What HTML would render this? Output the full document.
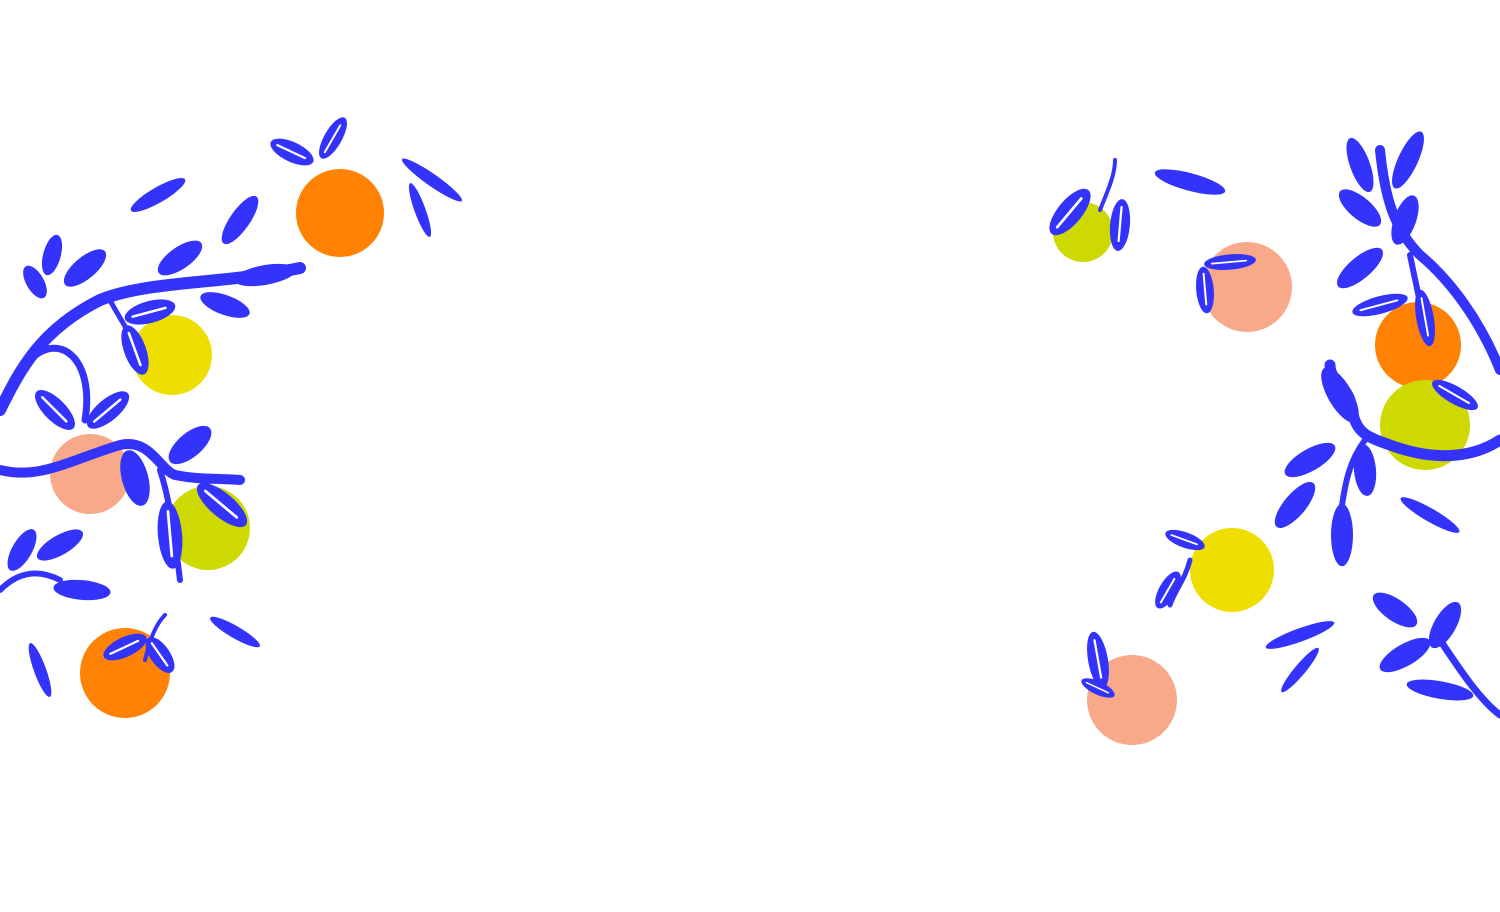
<!DOCTYPE html>
<html><head><meta charset="utf-8"><style>
html,body{margin:0;padding:0;background:#fff;width:1500px;height:912px;overflow:hidden}
svg{display:block}
</style></head><body>
<svg width="1500" height="912" viewBox="0 0 1500 912" xmlns="http://www.w3.org/2000/svg">
<defs>
<g id="lf"><ellipse cx="0" cy="0" rx="26" ry="11" fill="#3333fb"/></g>
<g id="lv"><ellipse cx="0" cy="0" rx="26" ry="11" fill="#3333fb"/><line x1="-18" y1="0" x2="16" y2="0" stroke="#fff" stroke-width="2.5" stroke-linecap="round"/></g>
</defs>
<circle cx="340" cy="213" r="44" fill="#ff8205"/>
<circle cx="172" cy="355" r="40" fill="#eedf00"/>
<circle cx="90" cy="474" r="40" fill="#f7a98a"/>
<circle cx="208" cy="528" r="42" fill="#cdd900"/>
<circle cx="125" cy="673" r="45" fill="#ff8205"/>
<circle cx="1083" cy="232" r="30" fill="#cdd900"/>
<circle cx="1247" cy="287" r="45" fill="#f7a98a"/>
<circle cx="1418" cy="345" r="43" fill="#ff8205"/>
<circle cx="1425" cy="425" r="45" fill="#cdd900"/>
<circle cx="1232" cy="570" r="42" fill="#eedf00"/>
<circle cx="1132" cy="700" r="45" fill="#f7a98a"/>

<g fill="none" stroke="#3333fb" stroke-linecap="round">
<path d="M0,410 C20,370 40,330 100,300 C150,280 220,285 300,268" stroke-width="12"/>
<path d="M0,470 C40,480 70,460 120,445 C150,438 160,470 175,475 C200,480 215,478 240,480" stroke-width="10"/>
<path d="M30,360 C60,330 95,360 85,420" stroke-width="7"/>
<path d="M110,300 C120,320 130,330 140,360" stroke-width="5"/>
<path d="M160,470 C170,500 175,540 180,580" stroke-width="6"/>
<path d="M0,590 C20,570 40,570 60,580" stroke-width="6"/>
<path d="M145,660 C150,640 155,625 165,615" stroke-width="4"/>
<path d="M1500,440 C1470,460 1430,460 1390,445 C1360,435 1355,430 1350,400 C1345,385 1330,380 1330,365" stroke-width="11"/>
<path d="M1500,370 C1480,320 1450,280 1420,255 C1395,230 1385,200 1380,150" stroke-width="10"/>
<path d="M1365,440 C1350,460 1345,480 1340,520" stroke-width="6"/>
<path d="M1410,255 C1415,280 1420,300 1425,330" stroke-width="6"/>
<path d="M1100,210 C1108,190 1115,175 1115,160" stroke-width="4"/>
<path d="M1440,640 C1460,670 1480,700 1500,715" stroke-width="7"/>
<path d="M1190,560 C1185,580 1175,590 1170,605" stroke-width="5"/>
</g>

<use href="#lf" transform="translate(158,195) rotate(-30) scale(1.2,0.7)"/>
<use href="#lf" transform="translate(240,220) rotate(-55) scale(1.1,0.9)"/>
<use href="#lf" transform="translate(180,258) rotate(-35)"/>
<use href="#lf" transform="translate(265,275) rotate(-10) scale(1.2,0.9)"/>
<use href="#lf" transform="translate(225,305) rotate(20) scale(1,0.9)"/>
<use href="#lv" transform="translate(150,312) rotate(-15) scale(1,1)"/>
<use href="#lv" transform="translate(135,350) rotate(70)"/>
<use href="#lf" transform="translate(85,268) rotate(-40)"/>
<use href="#lf" transform="translate(52,255) rotate(-75) scale(0.8,0.8)"/>
<use href="#lf" transform="translate(35,282) rotate(60) scale(0.7,0.8)"/>
<use href="#lv" transform="translate(55,410) rotate(45)"/>
<use href="#lv" transform="translate(108,410) rotate(-40)"/>
<use href="#lf" transform="translate(190,445) rotate(-40) scale(1,1.1)"/>
<use href="#lf" transform="translate(135,478) rotate(75) scale(1.1,1.2)"/>
<use href="#lv" transform="translate(222,505) rotate(40) scale(1.2,1.1)"/>
<use href="#lv" transform="translate(170,535) rotate(85) scale(1.3,1.1)"/>
<use href="#lf" transform="translate(22,550) rotate(-60) scale(0.9,0.9)"/>
<use href="#lf" transform="translate(60,545) rotate(-30) scale(1,0.9)"/>
<use href="#lf" transform="translate(82,590) rotate(5) scale(1.1,0.9)"/>
<use href="#lv" transform="translate(125,647) rotate(-25) scale(0.9,0.9)"/>
<use href="#lv" transform="translate(160,655) rotate(55) scale(0.8,0.9)"/>
<use href="#lv" transform="translate(292,152) rotate(25) scale(0.9,0.9)"/>
<use href="#lv" transform="translate(333,138) rotate(-60) scale(0.9,0.8)"/>
<use href="#lf" transform="translate(432,180) rotate(35) scale(1.4,0.55)"/>
<use href="#lf" transform="translate(420,210) rotate(70) scale(1.1,0.5)"/>
<use href="#lf" transform="translate(235,632) rotate(30) scale(1.1,0.55)"/>
<use href="#lf" transform="translate(40,670) rotate(70) scale(1.1,0.55)"/>

<use href="#lv" transform="translate(1070,212) rotate(-50) scale(1.1,1.1)"/>
<use href="#lv" transform="translate(1120,225) rotate(95) scale(1,0.9)"/>
<use href="#lf" transform="translate(1190,182) rotate(15) scale(1.4,0.8)"/>
<use href="#lv" transform="translate(1230,262) rotate(-5) scale(1,0.7)"/>
<use href="#lv" transform="translate(1205,290) rotate(85) scale(0.9,0.8)"/>
<use href="#lf" transform="translate(1360,165) rotate(70) scale(1.1,0.9)"/>
<use href="#lf" transform="translate(1408,160) rotate(-65) scale(1.2,0.9)"/>
<use href="#lf" transform="translate(1360,208) rotate(40)"/>
<use href="#lf" transform="translate(1405,220) rotate(-70)"/>
<use href="#lf" transform="translate(1360,268) rotate(-40) scale(1.1,1)"/>
<use href="#lv" transform="translate(1380,305) rotate(-15) scale(1.1,0.8)"/>
<use href="#lv" transform="translate(1425,318) rotate(80) scale(1.1,0.8)"/>
<use href="#lv" transform="translate(1455,395) rotate(30) scale(1,0.8)"/>
<use href="#lf" transform="translate(1340,395) rotate(60) scale(1.2,1.1)"/>
<use href="#lf" transform="translate(1310,460) rotate(-30) scale(1.1,1)"/>
<use href="#lf" transform="translate(1365,470) rotate(85) scale(1,1)"/>
<use href="#lf" transform="translate(1295,505) rotate(-50) scale(1.1,1)"/>
<use href="#lf" transform="translate(1342,535) rotate(90) scale(1.2,1)"/>
<use href="#lf" transform="translate(1430,515) rotate(30) scale(1.3,0.6)"/>
<use href="#lv" transform="translate(1185,540) rotate(20) scale(0.8,0.7)"/>
<use href="#lv" transform="translate(1168,590) rotate(-60) scale(0.8,0.8)"/>
<use href="#lf" transform="translate(1300,635) rotate(-20) scale(1.4,0.6)"/>
<use href="#lf" transform="translate(1300,670) rotate(-50) scale(1.1,0.5)"/>
<use href="#lv" transform="translate(1098,660) rotate(80) scale(1.1,0.9)"/>
<use href="#lv" transform="translate(1098,688) rotate(25) scale(0.7,0.6)"/>
<use href="#lf" transform="translate(1395,610) rotate(35) scale(1,1)"/>
<use href="#lf" transform="translate(1445,625) rotate(-60) scale(1,1)"/>
<use href="#lf" transform="translate(1405,655) rotate(-30) scale(1.1,1)"/>
<use href="#lf" transform="translate(1440,690) rotate(10) scale(1.3,0.8)"/>
</svg>
</body></html>
